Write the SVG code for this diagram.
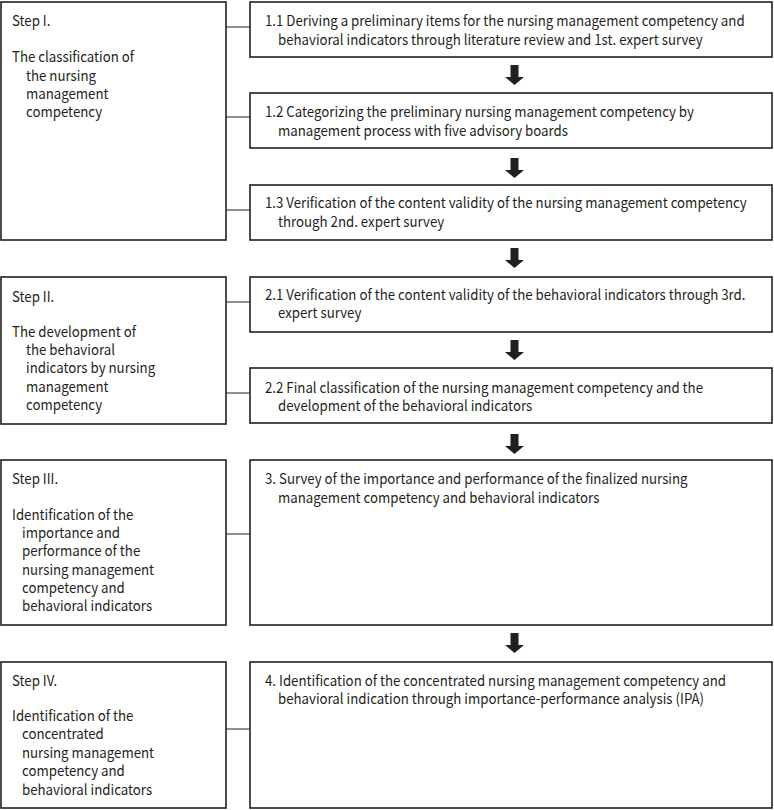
<svg xmlns="http://www.w3.org/2000/svg" width="774" height="810" viewBox="0 0 774 810">
<style>
.box{fill:#fff;stroke:#231f20;stroke-width:1.6}
.con{stroke:#231f20;stroke-width:1.2;fill:none}
text{font-family:"Noto Sans CJK KR","Noto Sans",sans-serif;font-size:14.5px;fill:#231f20;transform-box:fill-box;transform-origin:0 50%;transform:scaleX(0.915)}
</style>
<defs>
<path id="arr" d="M-4,0 H4 V12 H9.5 L0,20 L-9.5,12 H-4 Z" fill="#231f20"/>
</defs>
<rect width="774" height="810" fill="#fff"/>
<g id="connectors">
<path class="con" d="M226,27H250M226,117H250M226,210H250M226,302H250M226,393H250M226,534H250M226,729H250"/>
<use href="#arr" x="514.5" y="65"/>
<use href="#arr" x="514.5" y="158"/>
<use href="#arr" x="514.5" y="248"/>
<use href="#arr" x="514.5" y="340"/>
<use href="#arr" x="514.5" y="434"/>
<use href="#arr" x="514.5" y="633"/>
</g>
<g id="step1">
<rect class="box" x="1" y="2" width="225" height="238"/>
<text x="12" y="26">Step I.</text>
<text x="12" y="62">The classification of</text>
<text x="26" y="81">the nursing</text>
<text x="26" y="99">management</text>
<text x="26" y="117">competency</text>
</g>
<g id="n11">
<rect class="box" x="250" y="2" width="522" height="55"/>
<text x="265" y="26">1.1 Deriving a preliminary items for the nursing management competency and</text>
<text x="278" y="45">behavioral indicators through literature review and 1st. expert survey</text>
</g>
<g id="n12">
<rect class="box" x="250" y="93" width="522" height="55"/>
<text x="265" y="117">1.2 Categorizing the preliminary nursing management competency by</text>
<text x="278" y="136">management process with five advisory boards</text>
</g>
<g id="n13">
<rect class="box" x="250" y="185" width="522" height="55"/>
<text x="265" y="208">1.3 Verification of the content validity of the nursing management competency</text>
<text x="278" y="227">through 2nd. expert survey</text>
</g>
<g id="step2">
<rect class="box" x="1" y="277" width="225" height="147"/>
<text x="12" y="302">Step II.</text>
<text x="12" y="337">The development of</text>
<text x="26" y="355">the behavioral</text>
<text x="26" y="373">indicators by nursing</text>
<text x="26" y="392">management</text>
<text x="26" y="410">competency</text>
</g>
<g id="n21">
<rect class="box" x="250" y="277" width="522" height="55"/>
<text x="265" y="300">2.1 Verification of the content validity of the behavioral indicators through 3rd.</text>
<text x="278" y="318">expert survey</text>
</g>
<g id="n22">
<rect class="box" x="250" y="368" width="522" height="55"/>
<text x="265" y="393">2.2 Final classification of the nursing management competency and the</text>
<text x="278" y="411">development of the behavioral indicators</text>
</g>
<g id="step3">
<rect class="box" x="1" y="460" width="225" height="165"/>
<text x="12" y="484">Step III.</text>
<text x="12" y="520">Identification of the</text>
<text x="22" y="538">importance and</text>
<text x="22" y="556">performance of the</text>
<text x="22" y="575">nursing management</text>
<text x="22" y="593">competency and</text>
<text x="22" y="611">behavioral indicators</text>
</g>
<g id="n3">
<rect class="box" x="250" y="460" width="522" height="165"/>
<text x="265" y="484">3. Survey of the importance and performance of the finalized nursing</text>
<text x="278" y="503">management competency and behavioral indicators</text>
</g>
<g id="step4">
<rect class="box" x="1" y="662" width="225" height="146"/>
<text x="12" y="686">Step IV.</text>
<text x="12" y="721">Identification of the</text>
<text x="22" y="739">concentrated</text>
<text x="22" y="758">nursing management</text>
<text x="22" y="776">competency and</text>
<text x="22" y="795">behavioral indicators</text>
</g>
<g id="n4">
<rect class="box" x="250" y="662" width="522" height="146"/>
<text x="265" y="686">4. Identification of the concentrated nursing management competency and</text>
<text x="278" y="704">behavioral indication through importance-performance analysis (IPA)</text>
</g>
</svg>
